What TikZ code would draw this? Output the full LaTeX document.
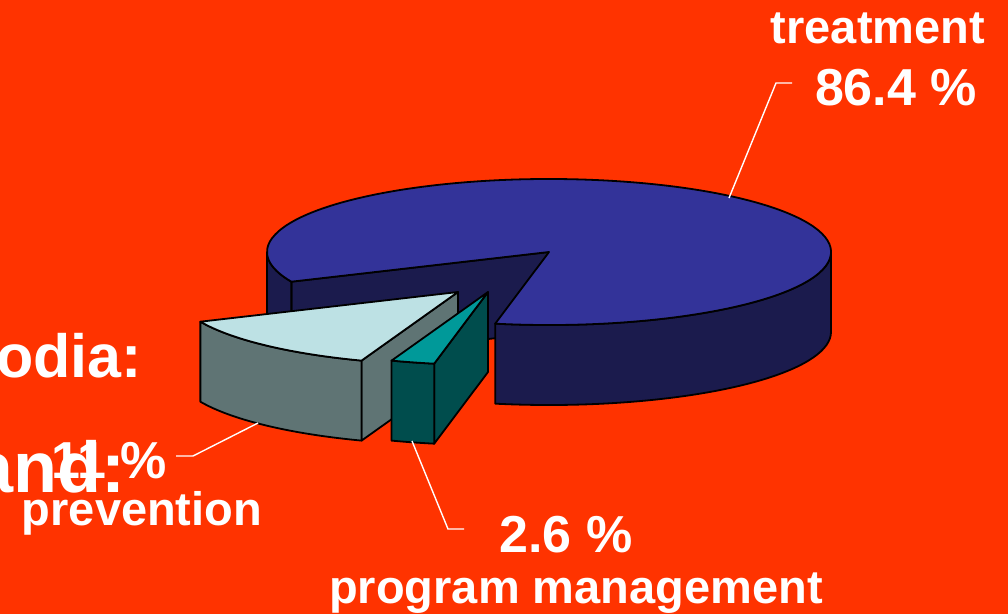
\documentclass[tikz,border=0pt]{standalone}
\usepackage{fontspec}
\setmainfont{Liberation Sans}
\usetikzlibrary{calc}

\definecolor{bgred}{RGB}{255,51,0}
\definecolor{trtop}{RGB}{51,51,153}
\definecolor{trside}{RGB}{27,27,77}
\definecolor{prtop}{RGB}{189,225,228}
\definecolor{prside}{RGB}{95,116,116}
\definecolor{pmtop}{RGB}{0,153,153}
\definecolor{pmside}{RGB}{0,77,77}

\begin{document}
\begin{tikzpicture}[x=1pt,y=-1pt,
  face/.style={draw=black,line width=1.8pt,line join=round},
  lbl/.style={text=white,inner sep=0pt,font=\bfseries\fontsize{47}{47}\selectfont},
  pct/.style={text=white,inner sep=0pt,font=\bfseries\fontsize{52}{52}\selectfont},
  leader/.style={draw=white,line width=1.4pt}]
\useasboundingbox (0,0) rectangle (1008,614);
\fill[bgred] (0,0) rectangle (1008,614);
\clip (0,0) rectangle (1008,614);

% slide title behind the chart
\node[text=white,inner sep=0pt,font=\bfseries\fontsize{61}{61}\selectfont,anchor=base east] (ttlone) at (142,377) {odia:};
\node[text=white,inner sep=0pt,font=\bfseries\fontsize{72}{72}\selectfont,anchor=base east] (ttltwo) at (126,492) {and:};

% slice centres
\coordinate (c) at (549,252);
\coordinate (cpr) at ($(c)+(-91,40)$);
\coordinate (cpm) at ($(c)+(-61,40)$);

% treatment
\draw[face,fill=trside] (c) -- ($(c)+(156:282 and 73)$) -- ++(0,80) -- ($(c)+(0,80)$) -- cycle;
\draw[face,fill=trside] ($(c)+(156:282 and 73)$) arc[start angle=156,end angle=180,x radius=282,y radius=73]
  -- ++(0,80) arc[start angle=180,end angle=156,x radius=282,y radius=73] -- cycle;
\draw[face,fill=trside] ($(c)+(0:282 and 73)$) arc[start angle=0,end angle=101,x radius=282,y radius=73]
  -- ++(0,80) arc[start angle=101,end angle=0,x radius=282,y radius=73] -- cycle;
\draw[face,fill=trtop] (c) -- ($(c)+(101:282 and 73)$) arc[start angle=101,end angle=-204,x radius=282,y radius=73] -- cycle;

% prevention
\draw[face,fill=prside] (cpr) -- ($(cpr)+(110:282 and 73)$) -- ++(0,80) -- ($(cpr)+(0,80)$) -- cycle;
\draw[face,fill=prside] ($(cpr)+(110:282 and 73)$) arc[start angle=110,end angle=156,x radius=282,y radius=73]
  -- ++(0,80) arc[start angle=156,end angle=110,x radius=282,y radius=73] -- cycle;
\draw[face,fill=prtop] (cpr) -- ($(cpr)+(110:282 and 73)$) arc[start angle=110,end angle=156,x radius=282,y radius=73] -- cycle;

% program management
\draw[face,fill=pmside] (cpm) -- ($(cpm)+(101:282 and 73)$) -- ++(0,80) -- ($(cpm)+(0,80)$) -- cycle;
\draw[face,fill=pmside] ($(cpm)+(101:282 and 73)$) arc[start angle=101,end angle=110,x radius=282,y radius=73]
  -- ++(0,80) arc[start angle=110,end angle=101,x radius=282,y radius=73] -- cycle;
\draw[face,fill=pmtop] (cpm) -- ($(cpm)+(101:282 and 73)$) arc[start angle=101,end angle=110,x radius=282,y radius=73] -- cycle;

% labels
\node[lbl,anchor=base] (trname) at (878,43) {treatment};
\node[pct,anchor=base] (trpct) at (896,105) {86.4 \%};
\node[pct,anchor=base east] (prpct) at (167,478) {11 \%};
\node[lbl,anchor=base] (prname) at (142,525) {prevention};
\node[pct,anchor=base] (pmpct) at (566,552) {2.6 \%};
\node[lbl,anchor=base] (pmname) at (576,603) {program management};

% leader lines
\coordinate (trtip) at (729,198);
\coordinate (trknee) at (776,83);
\coordinate (trend) at (792,83);
\coordinate (prtip) at (258,423);
\coordinate (prknee) at (193,456);
\coordinate (prend) at (176,456);
\coordinate (pmtip) at (412,441);
\coordinate (pmknee) at (448,529);
\coordinate (pmend) at (464,529);
\draw[leader] (trtip) -- (trknee) -- (trend);
\draw[leader] (prtip) -- (prknee) -- (prend);
\draw[leader] (pmtip) -- (pmknee) -- (pmend);
\end{tikzpicture}
\end{document}
